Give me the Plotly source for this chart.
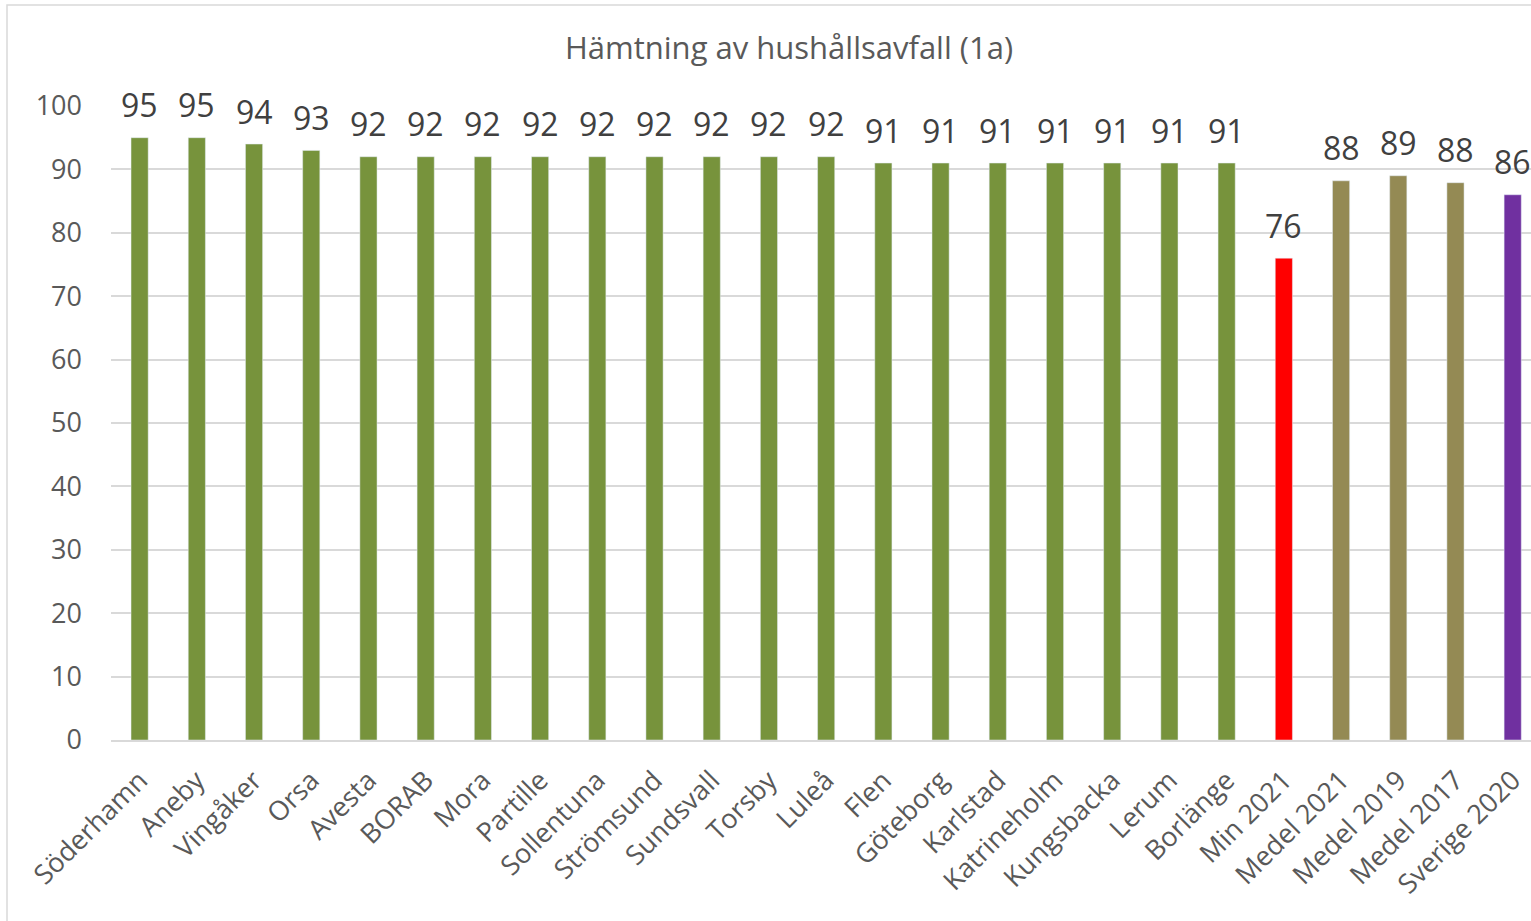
import plotly.graph_objects as go

categories = ["Söderhamn", "Aneby", "Vingåker", "Orsa", "Avesta", "BORAB", "Mora", "Partille",
              "Sollentuna", "Strömsund", "Sundsvall", "Torsby", "Luleå", "Flen", "Göteborg",
              "Karlstad", "Katrineholm", "Kungsbacka", "Lerum", "Borlänge", "Min 2021",
              "Medel 2021", "Medel 2019", "Medel 2017", "Sverige 2020"]
values = [95, 95, 94, 93, 92, 92, 92, 92, 92, 92, 92, 92, 92, 91, 91, 91, 91, 91, 91, 91,
          76, 88.2, 89, 87.9, 86]
colors = ["#77933C"] * 20 + ["#FF0000", "#948A54", "#948A54", "#948A54", "#7030A0"]
y_ticks = [0, 10, 20, 30, 40, 50, 60, 70, 80, 90, 100]
title = "Hämtning av hushållsavfall (1a)"

W, H = 1531, 921
ml, mr, mt, mb = 111, 0, 106, 181

fig = go.Figure(go.Bar(
    x=categories, y=values, marker_color=colors,
    cliponaxis=False, hoverinfo="x+y",
))

for c, v in zip(categories, values):
    fig.add_annotation(x=c, y=v, text=f"{v:.0f}", showarrow=False,
                       yanchor="middle", xanchor="center", yshift=33,
                       font=dict(size=32, color="#404040", family="Open Sans"))

fig.update_layout(
    width=W, height=H,
    margin=dict(l=ml, r=mr, t=mt, b=mb),
    paper_bgcolor="white", plot_bgcolor="white",
    bargap=0.70,
    showlegend=False,
    title=dict(text=title, x=789 / W, xref="container", xanchor="center",
               y=1 - 48 / H, yref="container", yanchor="middle",
               font=dict(size=31, color="#595959", family="Open Sans")),
    font=dict(family="Open Sans", color="#595959"),
)

fig.update_xaxes(
    range=[-0.5, 24.32], tickangle=-45, showgrid=False,
    tickfont=dict(size=27, color="#595959", family="Open Sans"),
    showline=True, linecolor="#d9d9d9", linewidth=1.5, ticks="", ticklabelstandoff=12,
)
fig.update_yaxes(
    range=[0, 100], tickvals=y_ticks, showgrid=True, gridcolor="#d9d9d9", gridwidth=1.5,
    zeroline=False, showline=False, ticks="", ticklabelstandoff=28,
    tickfont=dict(size=27, color="#595959", family="Open Sans"),
)

pw = W - ml - mr
ph = H - mt - mb
fig.add_shape(type="rect", xref="paper", yref="paper",
              x0=(7 - ml) / pw, x1=(W + 10 - ml) / pw,
              y0=(H - mb - (H + 10)) / ph, y1=(H - mb - 5) / ph,
              line=dict(color="#d9d9d9", width=1.5), fillcolor="rgba(0,0,0,0)", layer="below")

fig.write_html("out.html", config={"displayModeBar": False},
               post_script="document.body.style.margin='0';document.body.style.overflow='hidden';")
